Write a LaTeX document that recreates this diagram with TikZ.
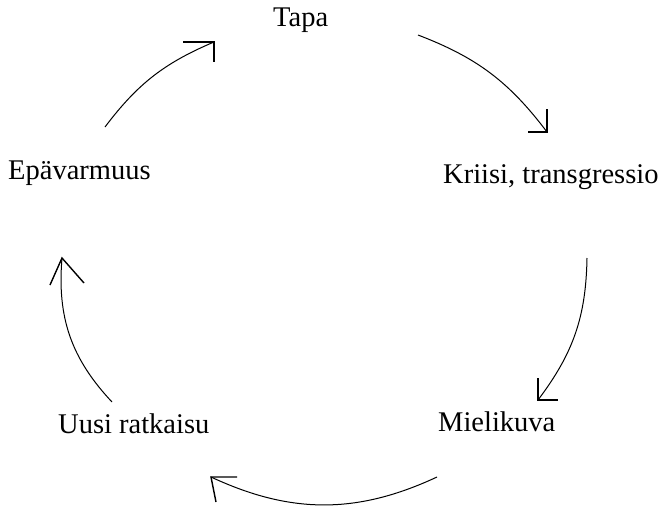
\documentclass[tikz,border=0pt]{standalone}
\usepackage{fontspec}
\setmainfont{Liberation Serif}
\begin{document}
\begin{tikzpicture}[x=1pt,y=-1pt,
  lbl/.style={inner sep=0pt,anchor=base west,font=\fontsize{28.5}{34}\selectfont},
  arc/.style={line width=1pt,black},
  head/.style={line width=1.4pt,black}]
\useasboundingbox[fill=white] (0,0) rectangle (663,506);
% labels
\node[lbl] (tapa) at (273,26) {Tapa};
\node[lbl] (kriisi) at (443,183) {Kriisi, transgressio};
\node[lbl] (mieli) at (438,431) {Mielikuva};
\node[lbl] (uusi) at (58,433) {Uusi ratkaisu};
\node[lbl] (epa) at (8,179) {Epävarmuus};
% arc end points
\coordinate (a1s) at (105,127); \coordinate (a1e) at (214,42);
\coordinate (a2s) at (418,35);  \coordinate (a2e) at (547,132);
\coordinate (a3s) at (587,258); \coordinate (a3e) at (538,400);
\coordinate (a4s) at (437,477); \coordinate (a4e) at (211,477);
\coordinate (a5s) at (112,402); \coordinate (a5e) at (62,258);
% arcs
\draw[arc] (a1s) to[bend left=15] (a1e);
\draw[arc] (a2s) to[bend left=16] (a2e);
\draw[arc] (a3s) to[bend left=18] (a3e);
\draw[arc] (a4s) to[bend left=25] (a4e);
\draw[arc] (a5s) to[bend left=24] (a5e);
% arrow heads
\draw[head] (a1e) ++(-31,0) -- (a1e) -- ++(0,20);
\draw[head] (a2e) ++(0,-23) -- (a2e) -- ++(-19,0);
\draw[head] (a3e) ++(0,-22) -- (a3e) -- ++(20,0);
\draw[head] (a4e) ++(26,0) -- (a4e) -- ++(5,25);
\draw[head] (a5e) ++(-12,27) -- (a5e) -- ++(22,25);
\end{tikzpicture}
\end{document}
